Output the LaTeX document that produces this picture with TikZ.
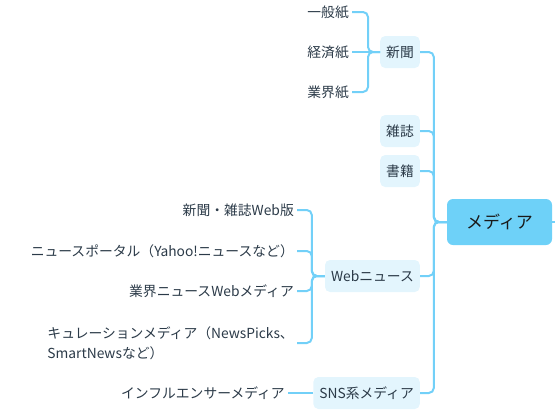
\documentclass[tikz,border=0pt]{standalone}
\usepackage{fontspec}
\setmainfont{Noto Sans CJK JP}
\usepackage{tikz}
\usepackage{xcolor}
\definecolor{mapblue}{HTML}{6ED1F8}
\definecolor{linkblue}{HTML}{72D0F8}
\definecolor{palefill}{HTML}{E3F5FD}
\definecolor{inkgray}{HTML}{2B3A48}
\tikzset{
    root-box/.style = {fill=mapblue, rectangle, rounded corners=6pt, minimum width=105pt, minimum height=46pt, text=black!90, font=\fontsize{17}{20}\selectfont},
    branch-box/.style = {fill=palefill, rectangle, rounded corners=5pt, inner xsep=6pt, minimum height=32pt, anchor=east, text=inkgray, font=\fontsize{13.8}{20}\selectfont},
    leaf-text/.style = {inner sep=3pt, anchor=east, text=inkgray, font=\fontsize{13.8}{20}\selectfont},
    link/.style = {draw=linkblue, line width=2pt, rounded corners=5pt},
}

\begin{document}
\begin{tikzpicture}[x=1pt, y=-1pt]
\useasboundingbox (0,0) rectangle (555,418);
\node [root-box] (media) at (499.5,222) {メディア};
\coordinate (edge) at (555,222);

\node [branch-box] (shinbun) at (420,52) {新聞};
\node [branch-box] (zasshi) at (420,131) {雑誌};
\node [branch-box] (shoseki) at (420,171) {書籍};
\node [branch-box] (webnews) at (420,276) {Webニュース};
\node [branch-box] (sns) at (420,393) {SNS系メディア};

\node [leaf-text] (ippan) at (352,12) {一般紙};
\node [leaf-text] (keizai) at (352,52) {経済紙};
\node [leaf-text] (gyokai) at (352,92) {業界紙};

\node [leaf-text] (webban) at (297,210) {新聞・雑誌Web版};
\node [leaf-text] (portal) at (297,251) {ニュースポータル（Yahoo!ニュースなど）};
\node [leaf-text] (gyokaiweb) at (297,291) {業界ニュースWebメディア};
\node [leaf-text, align=left] (curation) at (297,343) {キュレーションメディア（NewsPicks、\\SmartNewsなど）};
\node [leaf-text] (influencer) at (288,393) {インフルエンサーメディア};

\draw [link] (media.east) -- (edge);
\draw [link] (media.west) -- +(-13,0) |- (shinbun.east);
\draw [link] (media.west) -- +(-13,0) |- (zasshi.east);
\draw [link] (media.west) -- +(-13,0) |- (shoseki.east);
\draw [link] (media.west) -- +(-13,0) |- (webnews.east);
\draw [link] (media.west) -- +(-13,0) |- (sns.east);

\draw [link] (shinbun.west) -- +(-12,0) |- (ippan.east);
\draw [link] (shinbun.west) -- (keizai.east);
\draw [link] (shinbun.west) -- +(-12,0) |- (gyokai.east);

\draw [link] (webnews.west) -- +(-13,0) |- (webban.east);
\draw [link] (webnews.west) -- +(-13,0) |- (portal.east);
\draw [link] (webnews.west) -- +(-13,0) |- (gyokaiweb.east);
\draw [link] (webnews.west) -- +(-13,0) |- (curation.east);
\draw [link] (sns.west) -- (influencer.east);
\end{tikzpicture}
\end{document}
